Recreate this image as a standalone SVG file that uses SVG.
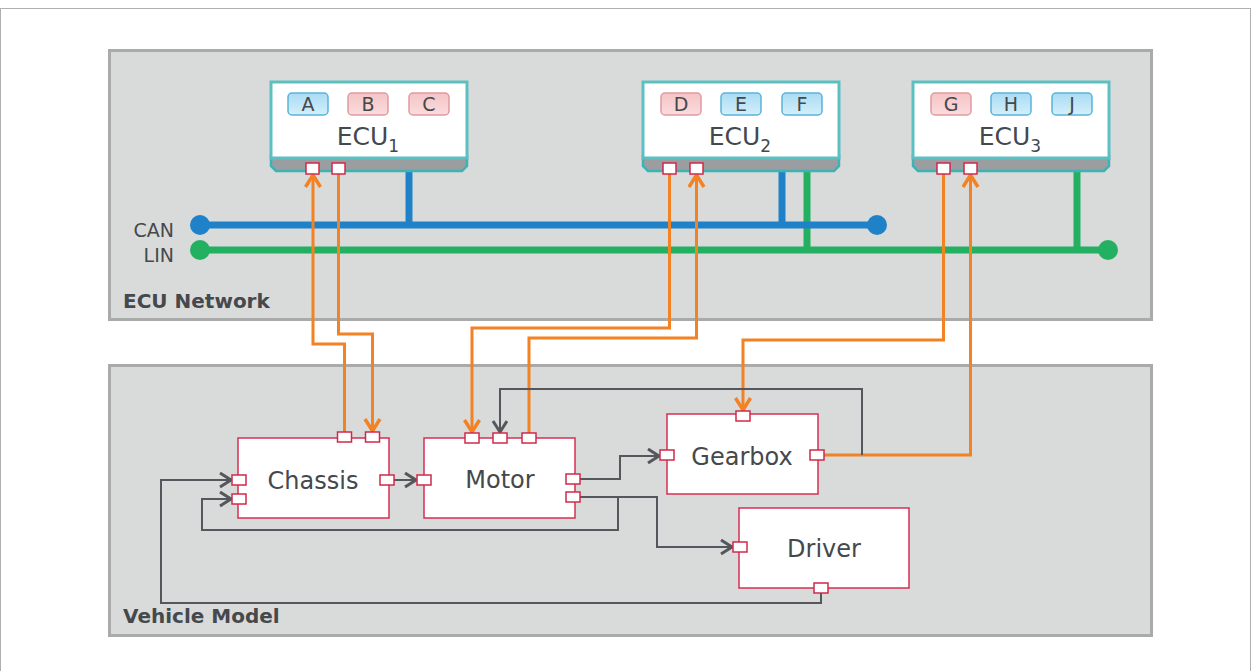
<svg xmlns="http://www.w3.org/2000/svg" width="1251" height="671" viewBox="0 0 1251 671">
<style>
.panel{fill:#d9dbda;stroke:#a9abab;stroke-width:3}
.ptitle{font-family:"DejaVu Sans","Open Sans",sans-serif;font-weight:bold;font-size:20px;fill:#45484c}
.ecu{fill:#fff;stroke:#5cc0c2;stroke-width:3}
.band{fill:#9a9ea1;stroke:#3fb2b3;stroke-width:2.5}
.btnb{fill:url(#gb);stroke:#5ab4da;stroke-width:1.5}
.btnp{fill:url(#gp);stroke:#e09aa0;stroke-width:1.5}
.btxt{font-family:"DejaVu Sans","Open Sans",sans-serif;font-size:19px;fill:#45484c;text-anchor:middle}
.etxt{font-family:"DejaVu Sans","Open Sans",sans-serif;font-size:25px;fill:#45484c;text-anchor:middle}
.ntxt{font-family:"DejaVu Sans","Open Sans",sans-serif;font-size:24px;fill:#45484c;text-anchor:middle}
.ltxt{font-family:"DejaVu Sans","Open Sans",sans-serif;font-size:19px;fill:#45484c;text-anchor:end}
.node{fill:#fff;stroke:#d62f52;stroke-width:1.5}
.port{fill:#fff;stroke:#d0284a;stroke-width:1.5}
.or{fill:none;stroke:#f28223;stroke-width:3;marker-end:url(#ao)}
.gr{fill:none;stroke:#54575b;stroke-width:2;marker-end:url(#ag)}
.can{stroke:#1f82c8;stroke-width:7;fill:none}
.lin{stroke:#23b060;stroke-width:7;fill:none}
</style>
<defs>
<linearGradient id="gb" x1="0" y1="0" x2="0" y2="1"><stop offset="0" stop-color="#a9dcf3"/><stop offset="1" stop-color="#d4effa"/></linearGradient>
<linearGradient id="gp" x1="0" y1="0" x2="0" y2="1"><stop offset="0" stop-color="#f5c4c6"/><stop offset="1" stop-color="#fadcdd"/></linearGradient>
<marker id="ag" markerUnits="userSpaceOnUse" markerWidth="16" markerHeight="18" refX="13" refY="8" orient="auto" viewBox="0 0 16 18">
<path d="M2,1 L13,8 L2,15" fill="none" stroke="#54575b" stroke-width="3"/>
</marker>
<marker id="ao" markerUnits="userSpaceOnUse" markerWidth="18" markerHeight="20" refX="14" refY="9" orient="auto" viewBox="0 0 18 20">
<path d="M2,1.5 L14,9 L2,16.5" fill="none" stroke="#f28223" stroke-width="3.5"/>
</marker>
</defs>
<rect x="0" y="0" width="1251" height="671" fill="#fff"/>
<rect x="0.5" y="8.5" width="1250" height="670" fill="none" stroke="#b0b0b0" stroke-width="1"/>

<g id="ecu-network">
<rect class="panel" x="109.5" y="50.5" width="1042" height="269"/>
<text class="ptitle" x="123" y="308">ECU Network</text>
</g>
<g id="vehicle-model">
<rect class="panel" x="109.5" y="365.5" width="1042" height="270"/>
<text class="ptitle" x="123" y="623">Vehicle Model</text>
</g>

<g id="connectors">
<text class="ltxt" x="174" y="237">CAN</text>
<text class="ltxt" x="174" y="262">LIN</text>
<line class="can" x1="409" y1="171" x2="409" y2="225"/>
<line class="can" x1="782" y1="171" x2="782" y2="225"/>
<line class="lin" x1="807" y1="171" x2="807" y2="250"/>
<line class="lin" x1="1077" y1="171" x2="1077" y2="250"/>
<line class="can" x1="200" y1="225" x2="877" y2="225"/>
<circle cx="200" cy="225" r="10" fill="#1f82c8"/>
<circle cx="877" cy="225" r="10" fill="#1f82c8"/>
<line class="lin" x1="200" y1="250" x2="1108" y2="250"/>
<circle cx="200" cy="250" r="10" fill="#23b060"/>
<circle cx="1108" cy="250" r="10" fill="#23b060"/>

<path class="or" d="M344.5,432 V344 H313 V175"/>
<path class="or" d="M338.5,174 V334 H372.5 V431"/>
<path class="or" d="M669.5,174 V328 H472 V432"/>
<path class="or" d="M529,433 V338 H696.5 V175"/>
<path class="or" d="M943.5,174 V340 H743 V410"/>
<path class="or" d="M824,455 H970.5 V175"/>

<path class="gr" d="M394,480 H416"/>
<path class="gr" d="M580,479 H620 V456 H659"/>
<path class="gr" d="M580,497 H657 V547 H732"/>
<path class="gr" d="M618,497 V530 H202 V499 H231"/>
<path class="gr" d="M821,593 V603 H161 V480 H231"/>
<path class="gr" d="M862,455 V389 H500 V432"/>
</g>

<g id="ecu1">
<path class="band" d="M271,156 H467 V166 L462,171 H276 L271,166 Z"/>
<rect class="ecu" x="271" y="82" width="196" height="76"/>
<rect class="btnb" x="288" y="93" width="40" height="22" rx="4"/>
<rect class="btnp" x="348" y="93" width="40" height="22" rx="4"/>
<rect class="btnp" x="409" y="93" width="40" height="22" rx="4"/>
<text class="btxt" x="308" y="111">A</text>
<text class="btxt" x="368" y="111">B</text>
<text class="btxt" x="429" y="111">C</text>
<text class="etxt" x="368" y="145">ECU<tspan font-size="17" dy="7">1</tspan></text>
<rect class="port" x="306" y="163" width="13" height="11"/>
<rect class="port" x="332" y="163" width="13" height="11"/>
</g>

<g id="ecu2">
<path class="band" d="M643,156 H839 V166 L834,171 H648 L643,166 Z"/>
<rect class="ecu" x="643" y="82" width="196" height="76"/>
<rect class="btnp" x="661" y="93" width="40" height="22" rx="4"/>
<rect class="btnb" x="721" y="93" width="40" height="22" rx="4"/>
<rect class="btnb" x="782" y="93" width="40" height="22" rx="4"/>
<text class="btxt" x="681" y="111">D</text>
<text class="btxt" x="741" y="111">E</text>
<text class="btxt" x="802" y="111">F</text>
<text class="etxt" x="740" y="145">ECU<tspan font-size="17" dy="7">2</tspan></text>
<rect class="port" x="663" y="163" width="13" height="11"/>
<rect class="port" x="690" y="163" width="13" height="11"/>
</g>

<g id="ecu3">
<path class="band" d="M913,156 H1109 V166 L1104,171 H918 L913,166 Z"/>
<rect class="ecu" x="913" y="82" width="196" height="76"/>
<rect class="btnp" x="931" y="93" width="40" height="22" rx="4"/>
<rect class="btnb" x="991" y="93" width="40" height="22" rx="4"/>
<rect class="btnb" x="1052" y="93" width="40" height="22" rx="4"/>
<text class="btxt" x="951" y="111">G</text>
<text class="btxt" x="1011" y="111">H</text>
<text class="btxt" x="1072" y="111">J</text>
<text class="etxt" x="1010" y="145">ECU<tspan font-size="17" dy="7">3</tspan></text>
<rect class="port" x="937" y="163" width="13" height="11"/>
<rect class="port" x="964" y="163" width="13" height="11"/>
</g>

<g id="chassis">
<rect class="node" x="238" y="438" width="151" height="80"/>
<text class="ntxt" x="313" y="489">Chassis</text>
<rect class="port" x="337.5" y="432" width="14" height="10"/>
<rect class="port" x="365.5" y="432" width="14" height="10"/>
<rect class="port" x="232" y="475" width="14" height="10"/>
<rect class="port" x="232" y="494" width="14" height="10"/>
<rect class="port" x="380" y="475" width="14" height="10"/>
</g>

<g id="motor">
<rect class="node" x="424" y="438" width="151" height="80"/>
<text class="ntxt" x="500" y="488">Motor</text>
<rect class="port" x="465" y="433" width="14" height="10"/>
<rect class="port" x="493" y="433" width="14" height="10"/>
<rect class="port" x="522" y="433" width="14" height="10"/>
<rect class="port" x="417" y="475" width="14" height="10"/>
<rect class="port" x="566" y="474" width="14" height="10"/>
<rect class="port" x="566" y="492" width="14" height="10"/>
</g>

<g id="gearbox">
<rect class="node" x="667" y="414" width="151" height="80"/>
<text class="ntxt" x="742" y="465">Gearbox</text>
<rect class="port" x="736" y="411" width="14" height="10"/>
<rect class="port" x="660" y="450" width="14" height="10"/>
<rect class="port" x="810" y="450" width="14" height="10"/>
</g>

<g id="driver">
<rect class="node" x="739" y="508" width="170" height="80"/>
<text class="ntxt" x="824" y="557">Driver</text>
<rect class="port" x="733" y="542" width="14" height="10"/>
<rect class="port" x="814" y="583" width="14" height="10"/>
</g>
</svg>
